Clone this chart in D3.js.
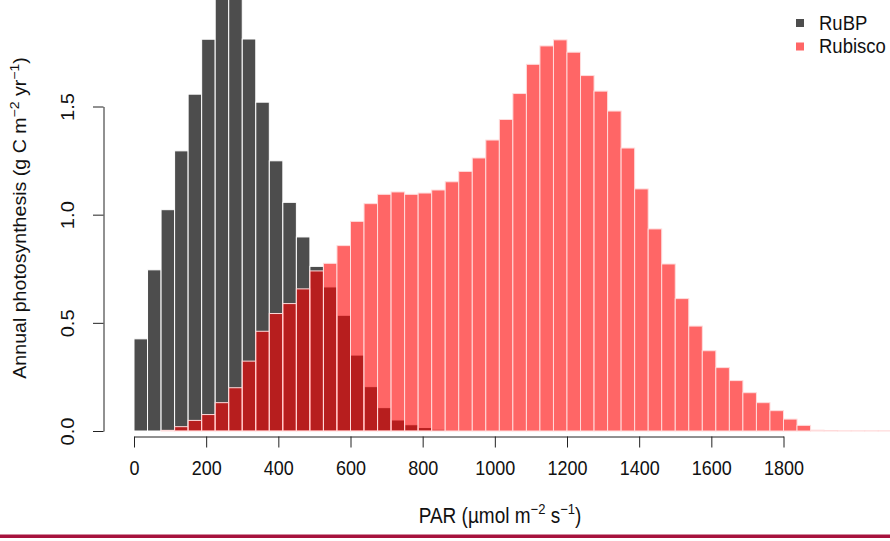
<!DOCTYPE html>
<html>
<head>
<meta charset="utf-8">
<script src="https://cdn.jsdelivr.net/npm/d3@7"></script>
<style>
  body { margin: 0; background: #fff; }
  text { font-family: "Liberation Sans", Arial, sans-serif; fill: #111; }
</style>
</head>
<body>
<script>
// PAR bins are 37.5 umol m-2 s-1 wide, starting at 0
const binWidth = 37.5;

// annual photosynthesis per bin, RuBP-limited (bins 0..24)
const rubpValues = [
  0.426, 0.745, 1.023, 1.295, 1.557, 1.811, 2.05, 2.04, 1.812, 1.52,
  1.249, 1.057, 0.897, 0.761, 0.666, 0.535, 0.351, 0.205, 0.108, 0.051,
  0.029, 0.016, 0.008, 0.003, 0.001
];

// annual photosynthesis per bin, Rubisco-limited (bins 0..55)
const rubiscoValues = [
  0, 0, 0.003, 0.02, 0.049, 0.076, 0.131, 0.2, 0.323, 0.461,
  0.543, 0.589, 0.657, 0.740, 0.775, 0.857, 0.969, 1.051, 1.094, 1.105,
  1.094, 1.1, 1.114, 1.152, 1.20, 1.262, 1.345, 1.44, 1.56, 1.695,
  1.78, 1.808, 1.751, 1.643, 1.571, 1.479, 1.308, 1.119, 0.934, 0.772,
  0.612, 0.485, 0.371, 0.293, 0.233, 0.177, 0.131, 0.094, 0.055, 0.026,
  0.004, 0.002, 0.0005, 0.0005, 0.0005, 0.0005
];

const xTicks = [0, 200, 400, 600, 800, 1000, 1200, 1400, 1600, 1800];
const yTicks = [0, 0.5, 1.0, 1.5];
const legendLabels = ["RuBP", "Rubisco"];

const width = 890, height = 541;
const stretch = 1.12; // source figure text is a bit taller than wide

const svg = d3.select("body").append("svg")
  .attr("width", width)
  .attr("height", height);

svg.append("rect").attr("width", width).attr("height", height).attr("fill", "#fff");

const x = d3.scaleLinear().domain([0, 1800]).range([134, 783.5]);
const y = d3.scaleLinear().domain([0, 1.5]).range([431, 106.5]);

function bars(values, cls) {
  return svg.append("g")
    .attr("class", cls)
    .selectAll("rect")
    .data(values)
    .enter()
    .append("rect")
    .attr("x", (d, i) => x(i * binWidth))
    .attr("width", x(binWidth) - x(0))
    .attr("y", d => y(d))
    .attr("height", d => y(0) - y(d));
}

bars(rubpValues, "rubp")
  .attr("fill", "#4d4d4d")
  .attr("stroke", "#fff")
  .attr("stroke-width", 1);

bars(rubiscoValues, "rubisco")
  .attr("fill", "rgb(255,0,0)")
  .attr("fill-opacity", 0.6)
  .attr("stroke", "#ffdcdc")
  .attr("stroke-width", 1);

// x axis
const xAxis = svg.append("g")
  .attr("transform", "translate(0,436.5)")
  .call(d3.axisBottom(x).tickValues(xTicks).tickSize(11).tickSizeOuter(0).tickFormat(d3.format("d")));
xAxis.selectAll("path, line").attr("stroke", "#222");
xAxis.selectAll("text")
  .attr("font-size", 18)
  .attr("y", 0)
  .attr("dy", 0)
  .attr("transform", `translate(0,38.5) scale(1,${stretch})`);

// y axis, R style rotated labels
const yAxis = svg.append("g")
  .attr("transform", "translate(103.5,0)")
  .call(d3.axisLeft(y).tickValues(yTicks).tickSize(10.5).tickSizeOuter(0).tickFormat(d3.format(".1f")));
yAxis.selectAll("path, line").attr("stroke", "#222");
yAxis.selectAll("text")
  .attr("font-size", 18)
  .attr("text-anchor", "middle")
  .attr("x", 0)
  .attr("y", -35.5)
  .attr("dy", "0.35em")
  .attr("transform", `scale(1,${stretch}) rotate(-90)`);

// axis titles
const xTitle = svg.append("text")
  .attr("transform", `translate(500,523) scale(1,${stretch})`)
  .attr("text-anchor", "middle")
  .attr("font-size", 19);
xTitle.append("tspan").text("PAR (\u00b5mol m");
xTitle.append("tspan").attr("dy", -8).attr("font-size", 13).text("\u22122");
xTitle.append("tspan").attr("dy", 8).text(" s");
xTitle.append("tspan").attr("dy", -8).attr("font-size", 13).text("\u22121");
xTitle.append("tspan").attr("dy", 8).text(")");

const yTitle = svg.append("text")
  .attr("transform", `translate(26,218) scale(1,${stretch}) rotate(-90)`)
  .attr("text-anchor", "middle")
  .attr("font-size", 17.5);
yTitle.append("tspan").text("Annual photosynthesis (g C m");
yTitle.append("tspan").attr("dy", -7.5).attr("font-size", 12.5).text("\u22122");
yTitle.append("tspan").attr("dy", 7.5).text(" yr");
yTitle.append("tspan").attr("dy", -7.5).attr("font-size", 12.5).text("\u22121");
yTitle.append("tspan").attr("dy", 7.5).text(")");

// legend
const legendColors = ["#4d4d4d", "#ff6666"];
const legend = svg.append("g").selectAll("g")
  .data(legendLabels)
  .enter()
  .append("g")
  .attr("transform", (d, i) => `translate(796,${19 + i * 23.5})`);
legend.append("rect")
  .attr("width", 8)
  .attr("height", 8)
  .attr("fill", (d, i) => legendColors[i]);
legend.append("text")
  .attr("transform", `translate(23,10.5) scale(1,${stretch})`)
  .attr("font-size", 18.5)
  .text(d => d);

// crimson rule at the page bottom
svg.append("rect")
  .attr("x", 0)
  .attr("y", 534.5)
  .attr("width", width)
  .attr("height", 3.5)
  .attr("fill", "#a6123d");
</script>
</body>
</html>
